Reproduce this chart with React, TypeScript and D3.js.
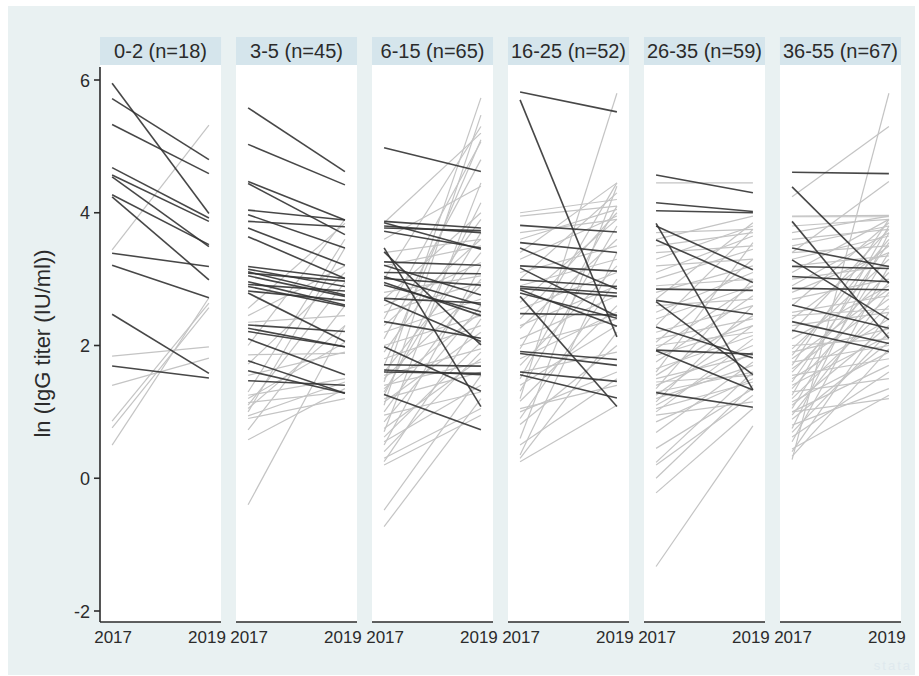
import * as d3 from "d3";

const W = 919;
const H = 676;

const GROUPS = ["0-2", "3-5", "6-15", "16-25", "26-35", "36-55"];
const COUNTS = [18, 45, 65, 52, 59, 67];
const YEARS = [2017, 2019];
const Y_TICKS = [-2, 0, 2, 4, 6];

// each pair: [ln titer 2017, ln titer 2019]
const AGE_0_2 = [
  [5.95, 3.99], [5.72, 4.8], [5.33, 4.59], [4.68, 3.92], [4.57, 3.87], [4.54, 3.49],
  [4.27, 3.52], [4.24, 2.99], [3.39, 3.19], [3.21, 2.72], [2.47, 1.58], [1.69, 1.51],
  [3.44, 5.32], [1.84, 1.98], [1.4, 1.81], [0.86, 2.64], [0.76, 2.57], [0.5, 2.72],
];
const AGE_3_5 = [
  [5.58, 4.62], [5.03, 4.42], [4.47, 3.89], [4.44, 3.67], [4.04, 3.89], [3.97, 3.47],
  [3.87, 3.79], [3.77, 3.21], [3.64, 3.01], [3.19, 3.01], [3.15, 2.89], [3.11, 2.76],
  [3.09, 2.97], [3.05, 2.74], [2.96, 2.61], [2.92, 2.82], [2.89, 2.59], [2.82, 2.68],
  [2.79, 2.06], [2.31, 2.21], [2.26, 1.98], [2.21, 1.98], [2.1, 1.56], [1.77, 1.28],
  [1.62, 1.28], [1.47, 1.4],
  [2.56, 3.84], [1.86, 1.88], [2.0, 3.9], [1.14, 1.3], [1.05, 2.3], [1.0, 3.47],
  [0.94, 1.45], [0.73, 2.6], [0.58, 1.35], [-0.4, 2.3], [1.1, 2.95], [1.2, 2.05],
  [1.3, 3.6], [2.35, 2.45], [1.55, 1.9], [0.9, 1.2], [1.72, 3.1], [2.45, 3.2], [1.25, 1.5],
];
const AGE_6_15 = [
  [4.98, 4.62], [3.87, 3.77], [3.85, 3.45], [3.77, 3.73], [3.72, 3.47], [3.47, 1.08],
  [3.41, 2.01], [3.26, 3.21], [3.21, 2.76], [3.1, 3.08], [3.04, 2.61], [3.01, 2.91],
  [2.91, 2.51], [2.71, 2.64], [2.69, 2.06], [2.36, 2.11], [1.98, 1.31], [1.71, 1.69],
  [1.63, 1.56], [1.26, 0.73], [2.95, 2.45], [3.8, 3.7], [1.6, 1.58],
  [-0.73, 1.2], [-0.48, 1.55], [0.25, 2.4], [0.3, 1.05], [0.4, 1.9], [0.5, 3.2],
  [0.55, 1.4], [0.62, 2.05], [0.7, 4.45], [0.75, 1.8], [0.85, 2.6], [0.95, 1.3],
  [1.0, 3.0], [1.1, 5.47], [1.15, 2.2], [1.2, 1.6], [1.25, 4.15], [1.3, 3.7],
  [1.35, 2.5], [1.4, 1.75], [1.45, 5.73], [1.5, 2.9], [1.55, 1.95], [1.6, 3.4],
  [1.7, 5.1], [1.8, 2.3], [1.9, 3.9], [2.0, 2.45], [2.1, 4.8], [2.2, 2.7],
  [2.3, 3.6], [2.4, 5.07], [2.5, 2.95], [2.6, 3.25], [2.7, 4.0], [2.8, 3.05],
  [3.0, 5.3], [3.2, 3.5], [3.4, 3.6], [3.6, 4.4], [3.85, 5.2], [0.2, 0.95],
];
const AGE_16_25 = [
  [5.82, 5.52], [5.7, 2.13], [3.81, 3.71], [3.55, 3.4], [3.47, 2.85], [3.2, 3.12],
  [3.17, 2.44], [2.99, 2.89], [2.89, 2.79], [2.86, 2.74], [2.84, 2.29], [2.79, 2.41],
  [2.74, 1.08], [2.48, 2.46], [1.91, 1.79], [1.88, 1.7], [1.6, 1.46], [1.56, 1.21],
  [0.25, 1.1], [0.3, 2.2], [0.35, 3.4], [0.5, 1.5], [0.6, 4.4], [0.81, 2.0],
  [0.9, 3.0], [1.0, 1.6], [1.16, 2.6], [1.2, 5.8], [1.31, 3.8], [1.4, 2.3],
  [1.5, 4.1], [1.6, 1.9], [1.7, 3.2], [1.8, 2.5], [1.95, 4.45], [2.1, 2.75],
  [2.26, 3.6], [2.3, 2.9], [2.4, 4.0], [2.55, 3.1], [2.65, 3.9], [2.9, 3.3],
  [3.0, 4.3], [3.1, 3.5], [3.3, 3.95], [3.4, 4.45], [3.6, 4.05], [3.7, 3.9],
  [3.95, 4.1], [4.0, 4.2], [2.0, 2.4], [1.05, 1.4],
];
const AGE_26_35 = [
  [4.57, 4.3], [4.15, 4.02], [4.03, 4.0], [3.84, 1.33], [3.8, 3.14], [3.59, 2.95],
  [2.85, 2.83], [2.68, 2.47], [2.66, 1.56], [2.28, 1.81], [1.93, 1.87], [1.92, 1.33],
  [1.29, 1.07],
  [-1.33, 0.79], [-0.22, 1.05], [0.0, 1.4], [0.2, 1.25], [0.24, 1.6], [0.45, 1.35],
  [0.69, 1.75], [0.85, 1.5], [1.0, 2.1], [1.05, 1.45], [1.1, 1.9], [1.15, 2.6],
  [1.2, 1.7], [1.25, 2.3], [1.3, 1.6], [1.35, 3.0], [1.4, 2.0], [1.5, 1.85],
  [1.55, 2.45], [1.6, 3.55], [1.65, 2.15], [1.75, 2.75], [1.85, 2.3], [1.95, 2.9],
  [2.05, 3.3], [2.1, 2.4], [2.2, 2.6], [2.3, 3.75], [2.4, 2.9], [2.5, 3.1],
  [2.6, 2.7], [2.7, 3.85], [2.8, 3.2], [2.9, 3.0], [3.0, 3.45], [3.1, 3.65],
  [3.2, 3.3], [3.3, 3.8], [3.4, 3.5], [3.5, 3.7], [3.6, 3.95], [3.7, 3.75],
  [4.45, 4.45], [1.45, 1.55], [0.95, 1.15], [2.0, 2.2],
];
const AGE_36_55 = [
  [4.61, 4.59], [4.39, 2.94], [3.87, 2.11], [3.47, 3.19], [3.29, 2.39], [3.19, 3.16],
  [3.04, 2.96], [2.86, 2.84], [2.61, 2.26], [2.36, 2.03], [2.23, 1.91],
  [0.28, 5.8], [0.33, 1.95], [0.4, 2.5], [0.44, 1.25], [0.55, 3.2], [0.62, 1.6],
  [0.69, 2.2], [0.75, 3.7], [0.8, 1.35], [0.89, 2.05], [0.95, 2.8], [1.0, 1.7],
  [1.05, 3.4], [1.1, 2.3], [1.15, 1.9], [1.2, 2.6], [1.25, 3.8], [1.3, 1.5],
  [1.35, 2.95], [1.4, 2.15], [1.45, 3.55], [1.5, 2.4], [1.55, 1.8], [1.6, 3.1],
  [1.65, 2.7], [1.7, 3.9], [1.75, 2.0], [1.8, 2.85], [1.85, 3.6], [1.9, 2.25],
  [1.95, 3.3], [2.0, 2.1], [2.1, 2.9], [2.2, 3.75], [2.3, 2.5], [2.4, 3.5],
  [2.5, 2.75], [2.6, 3.85], [2.7, 3.0], [2.8, 3.4], [2.9, 3.7], [3.0, 3.2],
  [3.1, 3.9], [3.2, 3.35], [3.3, 3.65], [3.4, 3.5], [3.5, 3.8], [3.6, 3.75],
  [3.7, 3.95], [3.8, 3.9], [3.94, 3.94], [3.4, 4.47], [4.24, 5.3], [3.95, 3.96],
  [2.45, 2.55], [1.0, 1.2],
];
const SERIES = [AGE_0_2, AGE_3_5, AGE_6_15, AGE_16_25, AGE_26_35, AGE_36_55];

const BG = "#e9f1f2";
const STRIP = "#d5e5ec";
const INK = "#2b2b2b";
const FONT = "'Liberation Sans', Arial, sans-serif";

const PLOT_TOP = 65;
const PLOT_BOTTOM = 622;
const STRIP_TOP = 37;

export default function App() {
  const band = d3.scaleBand<string>().domain(GROUPS).range([100, 901]).paddingInner(0.11);
  const y = d3.scaleLinear().domain([-2, 6]).range([611, 80]);
  const bw = band.bandwidth();

  return (
    <svg width={W} height={H} style={{ position: "absolute", left: 0, top: 0, background: "#fff" }}
      fontFamily={FONT}>
      <rect x={8} y={6} width={907} height={669} fill={BG} />

      {GROUPS.map((g, i) => {
        const x0 = band(g)!;
        const x = d3.scaleLinear().domain([2016.75, 2019.25]).range([x0, x0 + bw]);
        const pairs = SERIES[i];
        const up = pairs.filter((p) => p[1] >= p[0]);
        const down = pairs.filter((p) => p[1] < p[0]);
        const line = (p: number[]) =>
          d3.line<number>().x((_, k) => x(YEARS[k])).y((v) => y(v))(p)!;
        return (
          <g key={g}>
            <rect x={x0} y={STRIP_TOP} width={bw} height={PLOT_TOP - STRIP_TOP} fill={STRIP} />
            <text x={x0 + bw / 2} y={58} textAnchor="middle" fontSize={20} fill={INK}>
              {`${g} (n=${COUNTS[i]})`}
            </text>
            <rect x={x0} y={PLOT_TOP} width={bw} height={PLOT_BOTTOM - PLOT_TOP} fill="#fff" />
            {up.map((p, k) => (
              <path key={"u" + k} d={line(p)} stroke="#c4c4c4" strokeWidth={1.2} fill="none" />
            ))}
            {down.map((p, k) => (
              <path key={"d" + k} d={line(p)} stroke="#333" strokeWidth={1.6} fill="none" strokeOpacity={0.9} />
            ))}
            <line x1={x0} x2={x0 + bw} y1={PLOT_BOTTOM} y2={PLOT_BOTTOM} stroke={INK} strokeWidth={1.6} />
            {YEARS.map((yr) => (
              <text key={yr} x={x(yr) + (yr === 2019 ? -2 : 1)} y={643} textAnchor="middle" fontSize={17} fill={INK}>
                {yr}
              </text>
            ))}
          </g>
        );
      })}

      {/* y axis */}
      <line x1={100} x2={100} y1={PLOT_TOP + 2} y2={PLOT_BOTTOM} stroke={INK} strokeWidth={1.6} />
      {Y_TICKS.map((t) => (
        <g key={t}>
          <line x1={94} x2={100} y1={y(t)} y2={y(t)} stroke={INK} strokeWidth={1.6} />
          <text x={90} y={y(t) + 6.5} textAnchor="end" fontSize={18} fill={INK}>
            {t}
          </text>
        </g>
      ))}
      <text transform={`translate(50, ${(PLOT_TOP + PLOT_BOTTOM) / 2}) rotate(-90)`} textAnchor="middle"
        fontSize={22} fill={INK}>
        ln (IgG titer (IU/ml))
      </text>

      <text x={912} y={670} textAnchor="end" fontSize={13} fill="#dfe9ee" letterSpacing={2}>stata</text>
    </svg>
  );
}
